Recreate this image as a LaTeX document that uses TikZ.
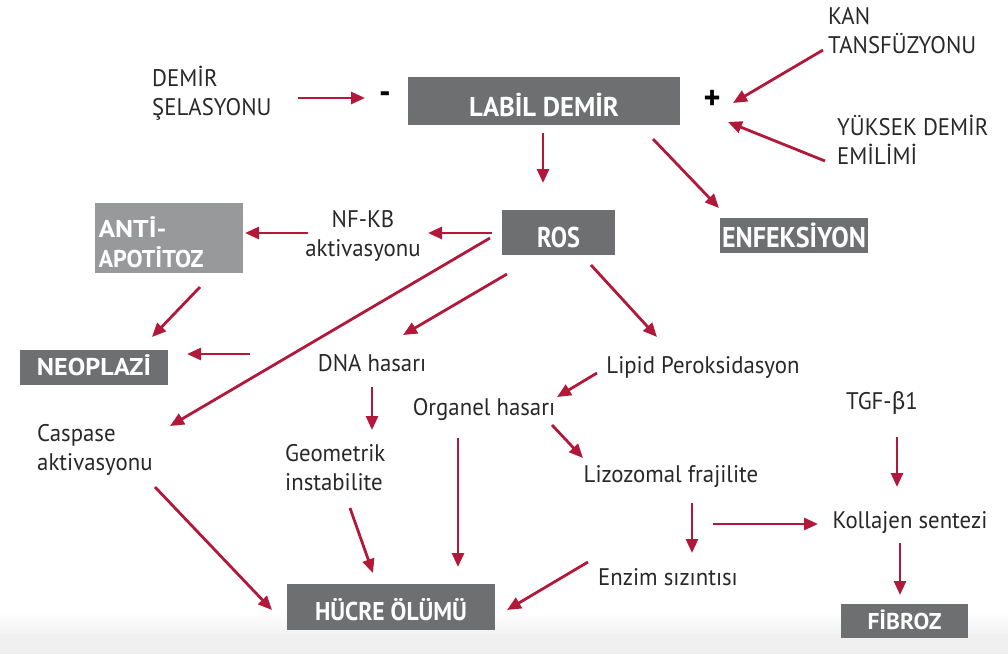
\documentclass[tikz,border=0pt]{standalone}
\usepackage{fontspec}
\usepackage{graphicx}
\setmainfont{PT Sans}[FakeStretch=0.95]
\newfontfamily\grk{Fira Sans}[FakeStretch=0.95]
\usetikzlibrary{arrows.meta}
\definecolor{arrred}{RGB}{178,24,58}
\definecolor{boxgray}{RGB}{110,111,113}
\definecolor{boxlight}{RGB}{152,153,155}
\definecolor{txt}{RGB}{40,40,42}
\definecolor{band}{RGB}{240,240,240}
\newcommand\fitcaps[3]{\resizebox{#1}{#2}{\raisebox{0pt}[\fontcharht\font`\H][0pt]{#3}}}
\begin{document}
\begin{tikzpicture}[x=1pt,y=-1pt,
  arr/.style={draw=arrred, line width=2.8pt, -{Triangle[length=14pt,width=12pt]}},
  lab/.style={inner sep=0pt, text=txt, font=\fontsize{24}{29}\selectfont},
  labl/.style={lab, anchor=west, align=left},
  labc/.style={lab, align=center},
  box/.style={fill=boxgray, text=white, font=\bfseries\fontsize{22}{30}\selectfont, inner sep=0pt},
  sign/.style={inner sep=0pt, text=black, font=\bfseries\fontsize{34}{34}\selectfont}]
\useasboundingbox (0,0) rectangle (1008,654);
\shade[top color=white, bottom color=band] (0,612) rectangle (1008,636);
\fill[band] (0,636) rectangle (1008,654);

% boxes
\node[box, minimum width=272pt, minimum height=48pt, text height=31pt, text depth=0pt] (labil) at (544,101) {\fitcaps{150pt}{19pt}{LABİL DEMİR}};
\node[box, minimum width=113pt, minimum height=45pt, text height=29pt, text depth=0pt] (ros) at (558.5,232.5) {\fitcaps{43pt}{20pt}{ROS}};
\node[box, minimum width=148pt, minimum height=35pt, text height=23pt, text depth=0pt] (enf) at (794,235.5) {\fitcaps{144pt}{20pt}{ENFEKSİYON}};
\node[box, fill=boxlight, minimum width=148pt, minimum height=70pt, align=left, text width=141pt, text height=28pt, text depth=30pt] (anti) at (169,238) {\fitcaps{68pt}{17pt}{ANTİ-}\\\fitcaps{105pt}{17pt}{APOTİTOZ}};
\node[box, minimum width=148pt, minimum height=35pt, text height=17pt, text depth=2pt] (neo) at (94,367.5) {\fitcaps{114pt}{17pt}{NEOPLAZİ}};
\node[box, minimum width=208pt, minimum height=46pt, text height=26pt, text depth=0pt] (hucre) at (391,607) {\fitcaps{152pt}{18pt}{HÜCRE ÖLÜMÜ}};
\node[box, minimum width=127pt, minimum height=34pt, text height=16pt, text depth=0pt] (fib) at (904.5,621) {\fitcaps{74pt}{16pt}{FİBROZ}};

% text labels
\node[labl] (demir) at (152,93) {DEMİR\\ŞELASYONU};
\node[sign] (minus) at (385,98) {-};
\node[sign] (plus) at (712,100) {+};
\node[labl] (kan) at (828,31) {KAN\\TANSFÜZYONU};
\node[labl] (yuk) at (837,140) {YÜKSEK DEMİR\\EMİLİMİ};
\node[labc] (nfkb) at (363,236) {NF-KB\\aktivasyonu};
\node[labc] (dna) at (372,363) {DNA hasarı};
\node[labc] (lipid) at (703,367) {Lipid Peroksidasyon};
\node[labc] (org) at (484,409) {Organel hasarı};
\node[labc] (tgf) at (882,403) {TGF-{\grk β}1};
\node[labl] (casp) at (37,450) {Caspase\\aktivasyonu};
\node[labl] (geom) at (285,468) {Geometrik\\instabilite};
\node[labc] (lizo) at (671,477) {Lizozomal frajilite};
\node[labc] (koll) at (910,523) {Kollajen sentezi};
\node[labc] (enzim) at (668,577) {Enzim sızıntısı};

% connectors
\draw[arr] ([shift={(146,5)}]demir.west) -- ([shift={(-20,0)}]minus.center);
\draw[arr] ([shift={(-5,19)}]kan.west) -- ([shift={(21,3)}]plus.center);
\draw[arr] ([shift={(-12,21)}]yuk.west) -- ([shift={(16,22)}]plus.center);
\draw[arr] ([shift={(-1,32)}]labil.center) -- ([shift={(-15.5,-49.5)}]ros.center);
\draw[arr] ([shift={(109,38)}]labil.center) -- ([shift={(-75,-27.5)}]enf.center);
\draw[arr] ([shift={(-66.5,0.5)}]ros.center) -- ([shift={(65,-3)}]nfkb.center);
\draw[arr] ([shift={(-55,-3)}]nfkb.center) -- ([shift={(76,-5)}]anti.center);
\draw[arr] ([shift={(31,49)}]anti.center) -- ([shift={(58,-30.5)}]neo.center);
\draw[arr] ([shift={(-122,-9)}]dna.center) -- ([shift={(93,-13.5)}]neo.center);
\draw[arr] ([shift={(-68.5,5.5)}]ros.center) -- ([shift={(133,-24)}]casp.west);
\draw[arr] ([shift={(-51.5,41.5)}]ros.center) -- ([shift={(31,-28)}]dna.center);
\draw[arr] ([shift={(32.5,32.5)}]ros.center) -- ([shift={(-46,-30)}]lipid.center);
\draw[arr] ([shift={(0,24)}]dna.center) -- ([shift={(87,-38)}]geom.west);
\draw[arr] ([shift={(65,40)}]geom.west) -- ([shift={(-18,-34)}]hucre.center);
\draw[arr] ([shift={(118,37)}]casp.west) -- ([shift={(-119,3)}]hucre.center);
\draw[arr] ([shift={(-106,6)}]lipid.center) -- ([shift={(73,-12)}]org.center);
\draw[arr] ([shift={(-26,29)}]org.center) -- ([shift={(67,-40)}]hucre.center);
\draw[arr] ([shift={(68,16)}]org.center) -- ([shift={(-88,-19)}]lizo.center);
\draw[arr] ([shift={(21,26)}]lizo.center) -- ([shift={(24,-24)}]enzim.center);
\draw[arr] ([shift={(42,47)}]lizo.center) -- ([shift={(-92,1)}]koll.center);
\draw[arr] ([shift={(-80,-15)}]enzim.center) -- ([shift={(116,3)}]hucre.center);
\draw[arr] ([shift={(15,34)}]tgf.center) -- ([shift={(-13,-36)}]koll.center);
\draw[arr] ([shift={(-10,20)}]koll.center) -- ([shift={(-4.5,-26)}]fib.center);
\end{tikzpicture}
\end{document}
